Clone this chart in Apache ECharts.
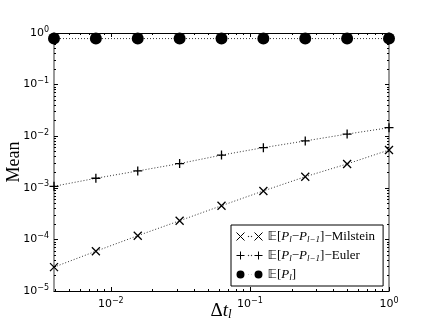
<!DOCTYPE html>
<html>
<head>
<meta charset="utf-8">
<script src="https://cdn.jsdelivr.net/npm/echarts@6/dist/echarts.min.js"></script>
<style>
  html, body { margin: 0; padding: 0; background: #fff; }
  #chart { width: 432px; height: 324px; }
</style>
</head>
<body>
<div id="chart"></div>
<script>
// time steps, 1/256 .. 1
var dt = [0.00390625, 0.0078125, 0.015625, 0.03125, 0.0625, 0.125, 0.25, 0.5, 1];

// values
var milstein = [2.9e-5, 5.9e-5, 1.18e-4, 2.3e-4, 4.5e-4, 8.7e-4, 1.64e-3, 2.9e-3, 5.4e-3];
var euler    = [1.07e-3, 1.53e-3, 2.12e-3, 2.95e-3, 4.3e-3, 6.0e-3, 8.1e-3, 1.1e-2, 1.46e-2];
var meanP    = [0.78, 0.78, 0.78, 0.78, 0.78, 0.78, 0.78, 0.78, 0.78];

// tick marks (decades)
var xMajor = [0.01, 0.1, 1];
var yMajor = [1e-5, 1e-4, 1e-3, 1e-2, 1e-1, 1];

function minorTicks(decades, lo, hi) {
  var out = [];
  decades.forEach(function (d) {
    for (var k = 2; k <= 9; k++) {
      var v = d * k;
      if (v >= lo && v <= hi) out.push(v);
    }
  });
  return out;
}
var xMinor = minorTicks([0.001, 0.01, 0.1], 0.00390625, 1);
var yMinor = minorTicks([1e-5, 1e-4, 1e-3, 1e-2, 1e-1], 1e-5, 1);

function pairs(xs, ys) {
  return xs.map(function (x, i) { return [x, ys[i]]; });
}

var tickFont = { b: { fontFamily: 'DejaVu Sans', fontSize: 11, color: '#000' },
                 e: { fontFamily: 'DejaVu Sans', fontSize: 8, color: '#000', verticalAlign: 'top', padding: [0, 0, 7, 0] } };

function powLabel(v) {
  var e = Math.round(Math.log10(v));
  return '{b|10}{e|' + String(e).replace('-', '\u2212') + '}';
}

function axisSet(kind, pos, min, max, major, minor, color, lineW, withLabels) {
  var main = {
    type: 'log', logBase: 10, position: pos, min: min, max: max,
    axisLine: { show: true, lineStyle: { color: color, width: lineW } },
    axisTick: { show: true, inside: true, length: 4, customValues: major, lineStyle: { color: '#000', width: 1 } },
    axisLabel: withLabels ? { show: true, customValues: major, formatter: powLabel, rich: tickFont, margin: kind === 'x' ? 6 : 5 } : { show: false },
    splitLine: { show: false }
  };
  var sub = {
    type: 'log', logBase: 10, position: pos, min: min, max: max,
    axisLine: { show: false },
    axisTick: { show: true, inside: true, length: 2, customValues: minor, lineStyle: { color: '#000', width: 1 } },
    axisLabel: { show: false },
    splitLine: { show: false }
  };
  return [main, sub];
}

var xAxes = axisSet('x', 'bottom', 0.00390625, 1, xMajor, xMinor, '#000', 1, true)
  .concat(axisSet('x', 'top', 0.00390625, 1, xMajor, xMinor, '#000', 1, false));
var yAxes = axisSet('y', 'left', 1e-5, 1, yMajor, yMinor, '#808080', 1.6, true)
  .concat(axisSet('y', 'right', 1e-5, 1, yMajor, yMinor, '#808080', 1.6, false));

var lineCommon = { color: '#333', width: 1, type: [1, 2] };

var legendRich = {
  i: { fontFamily: 'Liberation Serif', fontSize: 13, fontStyle: 'italic', color: '#000' },
  s: { fontFamily: 'Liberation Serif', fontSize: 9, fontStyle: 'italic', color: '#000', verticalAlign: 'bottom', padding: [6, 0, 0, 0] }
};
var legendText = {
  'milstein': '\uD835\uDD3C[{i|P}{s|l}\u2212{i|P}{s|l\u22121}]\u2212Milstein',
  'euler': '\uD835\uDD3C[{i|P}{s|l}\u2212{i|P}{s|l\u22121}]\u2212Euler',
  'mean': '\uD835\uDD3C[{i|P}{s|l}]'
};

var dots = 'M11.8,3.8h0.4v0.4h-0.4zM14.8,3.8h0.4v0.4h-0.4z';
var iconX = 'path://M0,0L8,8M8,0L0,8' + dots + 'M18,0L26,8M26,0L18,8';
var iconPlus = 'path://M4,0L4,8M0,4L8,4' + dots + 'M22,0L22,8M18,4L26,4';
var iconDot = 'path://M0,4a4,4 0 1,0 8,0a4,4 0 1,0 -8,0z' + dots + 'M18,4a4,4 0 1,0 8,0a4,4 0 1,0 -8,0z';

var option = {
  animation: false,
  backgroundColor: '#fff',
  grid: { left: 54, right: 43, top: 33, bottom: 33, containLabel: false, outerBoundsMode: 'none' },
  xAxis: xAxes,
  yAxis: yAxes,
  graphic: [
    {
      type: 'text', x: 14, y: 162, rotation: Math.PI / 2,
      style: { text: 'Mean', fontFamily: 'Liberation Serif', fontSize: 18, fill: '#000', align: 'center', verticalAlign: 'middle' }
    },
    {
      type: 'text', x: 221, y: 311,
      style: {
        text: '\u0394{i|t}{s|l}', fontFamily: 'Liberation Serif', fontSize: 19, fill: '#000',
        align: 'center', verticalAlign: 'middle',
        rich: {
          i: { fontFamily: 'Liberation Serif', fontSize: 19, fontStyle: 'italic', fill: '#000' },
          s: { fontFamily: 'Liberation Serif', fontSize: 13, fontStyle: 'italic', fill: '#000', verticalAlign: 'bottom', padding: [8, 0, 0, 0] }
        }
      }
    }
  ],
  legend: {
    orient: 'vertical',
    left: 231, top: 225,
    padding: [5, 8, 4, 5],
    itemGap: 5,
    itemWidth: 26, itemHeight: 8,
    itemStyle: { borderWidth: 1 },
    borderColor: '#000', borderWidth: 1,
    backgroundColor: '#fff',
    textStyle: { fontFamily: 'Liberation Serif, DejaVu Sans', fontSize: 13, color: '#000', rich: legendRich },
    formatter: function (name) { return legendText[name]; },
    data: [
      { name: 'milstein', icon: iconX },
      { name: 'euler', icon: iconPlus },
      { name: 'mean', icon: iconDot }
    ]
  },
  series: [
    {
      name: 'milstein', type: 'line', xAxisIndex: 0, yAxisIndex: 0,
      data: pairs(dt, milstein),
      symbol: 'path://M0,0L10,10M10,0L0,10', symbolSize: 8,
      itemStyle: { color: '#000', borderColor: '#000', borderWidth: 1.3 },
      lineStyle: lineCommon
    },
    {
      name: 'euler', type: 'line', xAxisIndex: 0, yAxisIndex: 0,
      data: pairs(dt, euler),
      symbol: 'path://M5,0L5,10M0,5L10,5', symbolSize: 9,
      itemStyle: { color: '#000', borderColor: '#000', borderWidth: 1.3 },
      lineStyle: lineCommon
    },
    {
      name: 'mean', type: 'line', xAxisIndex: 0, yAxisIndex: 0,
      data: pairs(dt, meanP),
      symbol: 'circle', symbolSize: 12,
      itemStyle: { color: '#000', borderWidth: 0 },
      lineStyle: lineCommon
    }
  ]
};

var chart = echarts.init(document.getElementById('chart'), null, { renderer: 'canvas' });
chart.setOption(option);
</script>
</body>
</html>
